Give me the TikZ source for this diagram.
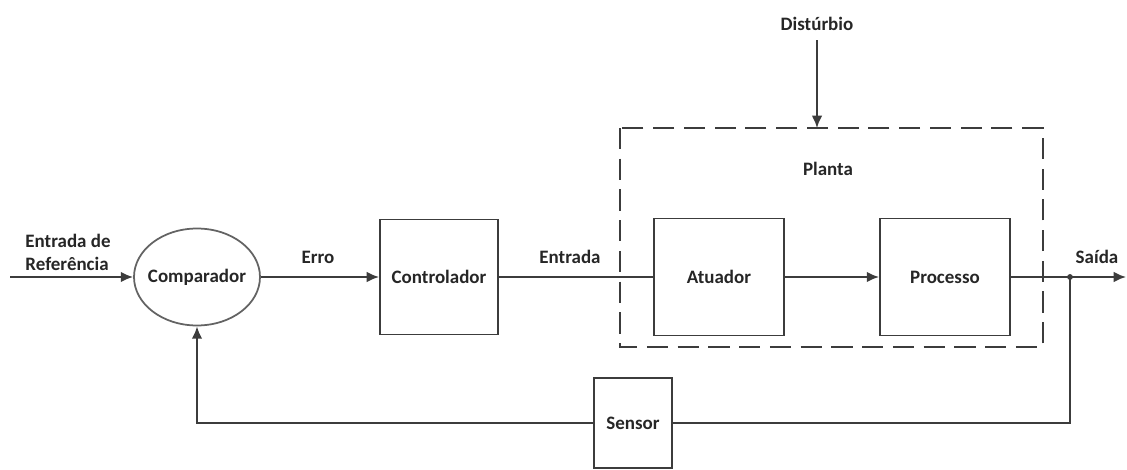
\documentclass[tikz,border=0pt]{standalone}
\usepackage{fontspec}
\setmainfont{Carlito}
\usetikzlibrary{shapes.geometric,arrows.meta}

\definecolor{linegray}{HTML}{3C3C3C}

\tikzset{
  block/.style={draw=linegray, line width=1.1pt, minimum width=2.36cm, minimum height=2.3cm},
  label/.style={font=\bfseries\fontsize{10.8}{13}\selectfont, text=black!85},
  sig/.style={draw=linegray, line width=1.1pt, -{Latex[length=7pt,width=6pt]}},
  wire/.style={draw=linegray, line width=1.1pt}
}

\begin{document}
\begin{tikzpicture}[x=0.02cm, y=-0.02cm]
    \useasboundingbox (0,0) rectangle (1127,470);
    \def\ym{277}

    % Comparador (ellipse)
    \node[ellipse, draw=linegray!80, line width=1pt, minimum width=2.52cm, minimum height=1.94cm, inner xsep=-3pt, inner ysep=0pt, label] (comp) at (197,\ym) {Comparador};

    % Blocks
    \node[block, label] (ctrl) at (439,\ym) {Controlador};
    \node[block, label, minimum width=2.6cm, minimum height=2.34cm] (atu) at (719,\ym) {Atuador};
    \node[block, label, minimum width=2.6cm, minimum height=2.34cm] (proc) at (945,\ym) {Processo};
    \node[block, label, minimum width=1.56cm, minimum height=1.8cm] (sens) at (633,423) {Sensor};

    % Planta (dashed box)
    \draw[linegray, line width=1.6pt, dash pattern=on 12pt off 5.5pt] (620,128) rectangle (1043,347);
    \node[label] (planta) at (828,169) {Planta};

    % Free ends
    \coordinate (in) at (10,\ym);
    \coordinate (out) at (1126,\ym);
    \coordinate (junc) at (1070,\ym);
    \coordinate (dist) at (817,40);
    \coordinate (plantatop) at (817,128);

    % Texts
    \node[label, align=left] (ref) at (68,252) {Entrada de\\Referência};
    \node[label] (erro) at (318,257) {Erro};
    \node[label] (entr) at (570,257) {Entrada};
    \node[label] (saida) at (1097,257) {Saída};
    \node[label] (distl) at (817,24) {Distúrbio};

    % Forward path
    \draw[sig] (in) -- (comp.west);
    \draw[sig] (comp.east) -- (ctrl.west);
    \draw[wire] (ctrl.east) -- (atu.west);
    \draw[sig] (atu.east) -- (proc.west);
    \draw[sig] (proc.east) -- (out);
    \draw[sig] (dist) -- (plantatop);

    % Feedback path
    \filldraw[linegray] (junc) circle (2.5);
    \draw[wire] (junc) |- (sens.east);
    \draw[sig] (sens.west) -| (comp.south);
\end{tikzpicture}
\end{document}
